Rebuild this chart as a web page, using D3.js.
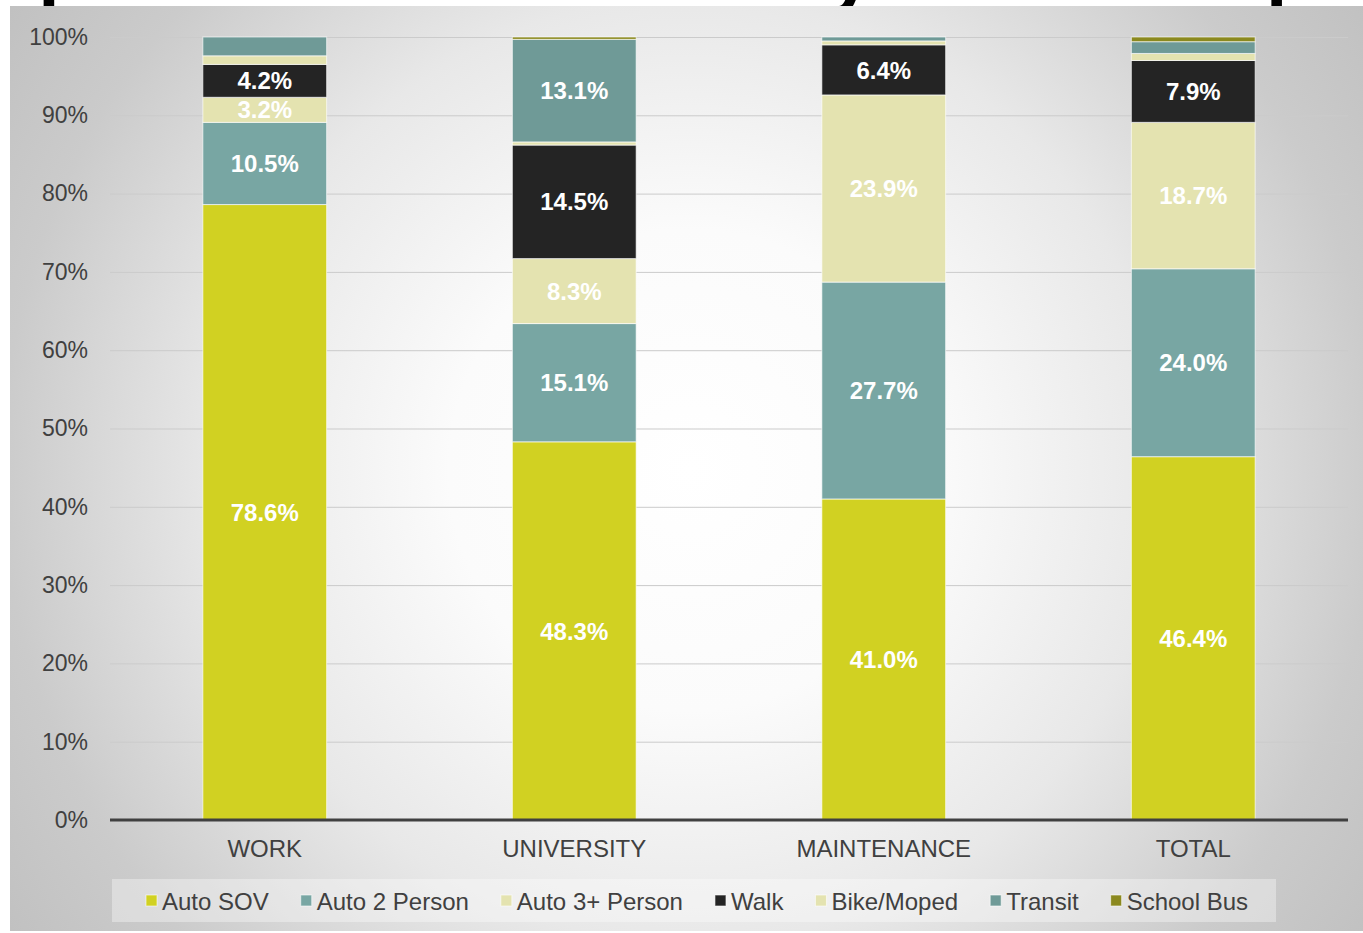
<!DOCTYPE html>
<html>
<head>
<meta charset="utf-8">
<script src="https://cdn.jsdelivr.net/npm/d3@7"></script>
<style>
  html, body { margin: 0; padding: 0; background: #ffffff; }
  svg { display: block; }
  text { font-family: "Liberation Sans", Arial, sans-serif; }
</style>
</head>
<body>
<svg id="chart" width="1363" height="933"></svg>
<script>
// Mode share by trip purpose (percent of trips)
const categories = ["WORK", "UNIVERSITY", "MAINTENANCE", "TOTAL"];
const seriesNames = ["Auto SOV", "Auto 2 Person", "Auto 3+ Person", "Walk", "Bike/Moped", "Transit", "School Bus"];
const autoSOV   = [78.6, 48.3, 41.0, 46.4];
const auto2     = [10.5, 15.1, 27.7, 24.0];
const auto3     = [3.2, 8.3, 23.9, 18.7];
const walk      = [4.2, 14.5, 6.4, 7.9];
const bikeMoped = [1.1, 0.4, 0.5, 0.9];
const transit   = [2.4, 13.1, 0.5, 1.5];
const schoolBus = [0.0, 0.3, 0.0, 0.6];
const yTicks = [0, 10, 20, 30, 40, 50, 60, 70, 80, 90, 100];
const titleText = "Trip Mode Distribution by Travel Purpose";

const seriesValues = [autoSOV, auto2, auto3, walk, bikeMoped, transit, schoolBus];
const colors = ["#d1d122", "#78a6a3", "#e4e3b0", "#242424", "#e4e3b0", "#6f9a97", "#8b891f"];

// table rows built from the arrays above
const rows = categories.map((c, i) => {
  const r = { category: c };
  seriesNames.forEach((s, k) => { r[s] = seriesValues[k][i]; });
  return r;
});
const stacked = d3.stack().keys(seriesNames)(rows);

const svg = d3.select("#chart");
const W = 1363, H = 933;
const plot = { left: 110, right: 1348, top: 37, bottom: 820 };

// slide title, partly hidden behind the chart panel
svg.append("text")
  .attr("x", -56).attr("y", -2)
  .attr("font-size", 77).attr("font-weight", "bold").attr("fill", "#000")
  .text(titleText);

// panel background
const defs = svg.append("defs");
const grad = defs.append("radialGradient")
  .attr("id", "bg").attr("gradientUnits", "userSpaceOnUse")
  .attr("cx", 690).attr("cy", 470).attr("r", 860);
[[0, "#ffffff"], [0.28, "#fbfbfb"], [0.55, "#e8e8e8"], [0.8, "#cbcbcb"], [1, "#bebebe"]]
  .forEach(([o, c]) => grad.append("stop").attr("offset", o).attr("stop-color", c));
svg.append("rect").attr("x", 10).attr("y", 6).attr("width", W - 10).attr("height", 925)
  .attr("fill", "url(#bg)");

const x = d3.scaleBand().domain(categories).range([plot.left, plot.right])
  .paddingInner(0.6).paddingOuter(0.3);
const y = d3.scaleLinear().domain([0, 100]).range([plot.bottom, plot.top]);

// gridlines
svg.append("g").attr("transform", `translate(${plot.left},0)`)
  .call(d3.axisLeft(y).tickValues(yTicks).tickSize(-(plot.right - plot.left)).tickFormat(""))
  .call(g => g.select(".domain").remove())
  .call(g => g.selectAll("line").attr("stroke", "#cbcbcb").attr("stroke-width", 1));

// y tick labels
svg.append("g").attr("transform", `translate(${plot.left},0)`)
  .call(d3.axisLeft(y).tickValues(yTicks).tickSize(0).tickPadding(22).tickFormat(d => d + "%"))
  .call(g => g.select(".domain").remove())
  .call(g => g.selectAll("text").attr("font-size", 23).attr("fill", "#404040")
    .attr("font-family", "Liberation Sans, Arial, sans-serif"));

// stacked bars
const layers = svg.append("g").selectAll("g").data(stacked).join("g")
  .attr("fill", (d, i) => colors[i]);
layers.selectAll("rect").data(d => d).join("rect")
  .attr("x", d => x(d.data.category))
  .attr("width", x.bandwidth())
  .attr("y", d => y(d[1]))
  .attr("height", d => Math.max(0, y(d[0]) - y(d[1])))
  .attr("stroke", "rgba(255,255,255,0.65)")
  .attr("stroke-width", 1);

// value labels on the larger segments
const labelData = [];
stacked.forEach(layer => layer.forEach(d => {
  const v = d[1] - d[0];
  if (v >= 3) labelData.push({ cat: d.data.category, mid: (d[0] + d[1]) / 2, v });
}));
svg.append("g").selectAll("text").data(labelData).join("text")
  .attr("x", d => x(d.cat) + x.bandwidth() / 2)
  .attr("y", d => y(d.mid))
  .attr("dy", "0.36em")
  .attr("text-anchor", "middle")
  .attr("font-size", 24).attr("font-weight", "bold").attr("fill", "#ffffff")
  .text(d => d.v.toFixed(1) + "%");

// x axis
svg.append("g").attr("transform", `translate(0,${plot.bottom})`)
  .call(d3.axisBottom(x).tickSize(0).tickPadding(20))
  .call(g => g.select(".domain").remove())
  .call(g => g.selectAll("text").attr("font-size", 24).attr("fill", "#404040")
    .attr("font-family", "Liberation Sans, Arial, sans-serif"));
svg.append("line")
  .attr("x1", plot.left).attr("x2", plot.right)
  .attr("y1", y(0)).attr("y2", y(0))
  .attr("stroke", "#404040").attr("stroke-width", 3);

// legend
const legend = svg.append("g");
legend.append("rect").attr("x", 112).attr("y", 879).attr("width", 1164).attr("height", 43)
  .attr("fill", "rgba(255,255,255,0.35)");
let lx = 146;
seriesNames.forEach((name, i) => {
  legend.append("rect").attr("x", lx).attr("y", 895).attr("width", 11).attr("height", 11)
    .attr("fill", colors[i]).attr("stroke", "rgba(255,255,255,0.6)").attr("stroke-width", 1);
  const t = legend.append("text").attr("x", lx + 16).attr("y", 901).attr("dy", "0.36em")
    .attr("font-size", 24).attr("fill", "#404040").text(name);
  lx += 16 + t.node().getComputedTextLength() + 32;
});
</script>
</body>
</html>
